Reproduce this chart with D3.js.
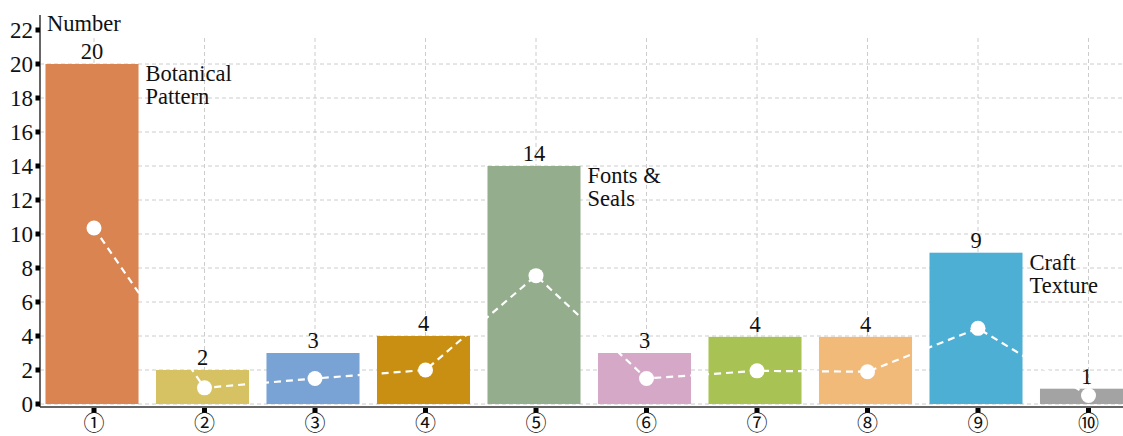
<!DOCTYPE html>
<html><head><meta charset="utf-8">
<script src="https://cdn.jsdelivr.net/npm/d3@7"></script>
<style>
html,body{margin:0;padding:0;background:#fff;}
svg{display:block;}
text{font-family:"Liberation Serif","Times New Roman",serif;fill:#111;}
.circ{font-family:"Noto Sans CJK SC","DejaVu Sans",sans-serif;}
</style></head>
<body>
<svg id="chart" width="1123" height="436"></svg>
<script>
const categories = ["①","②","③","④","⑤","⑥","⑦","⑧","⑨","⑩"];
const barValues = [20, 2, 3, 4, 14, 3, 3.95, 3.95, 8.9, 0.9];
const valueLabels = ["20","2","3","4","14","3","4","4","9","1"];
const dotValues = [10.35, 0.95, 1.5, 2.0, 7.55, 1.5, 1.95, 1.9, 4.45, 0.5];
const colors = ["#D98451","#D6C263","#79A3D4","#C98F13","#94AE8D","#D6A8C8","#A9C254","#F1BA78","#4EAFD4","#A3A3A3"];
const annotations = [{idx:0, lines:["Botanical","Pattern"]},{idx:4, lines:["Fonts &","Seals"]},{idx:8, lines:["Craft","Texture"]}];
const yTicks = [0,2,4,6,8,10,12,14,16,18,20,22];
const gridTicks = [0,2,4,6,8,10,12,14,16,18,20];
const yTitle = "Number";

const svg = d3.select("#chart");
const x = d3.scaleBand().domain(categories).range([36.75, 1141.75]).paddingInner(0.158).paddingOuter(0.079);
const y = d3.scaleLinear().domain([0,22]).range([404, 30]);
const cx = c => x(c) + x.bandwidth()/2 + 2;
const axisX = 40, axisY = 407;

// grid
const grid = svg.append("g").attr("stroke","#cccccc").attr("stroke-width",1).attr("stroke-dasharray","4,3");
grid.selectAll("line.h").data(gridTicks).join("line").attr("class","h")
  .attr("x1",axisX).attr("x2",1123).attr("y1",d=>y(d)).attr("y2",d=>y(d));
grid.selectAll("line.v").data(categories).join("line").attr("class","v")
  .attr("x1",d=>cx(d)).attr("x2",d=>cx(d)).attr("y1",38).attr("y2",404);

// bars
svg.append("g").selectAll("rect").data(categories).join("rect")
  .attr("x",d=>x(d)).attr("width",x.bandwidth())
  .attr("y",(d,i)=>y(barValues[i])).attr("height",(d,i)=>y(0)-y(barValues[i]))
  .attr("fill",(d,i)=>colors[i]);

// dashed line + dots
const line = d3.line().x((d,i)=>cx(categories[i])).y(d=>y(d));
svg.append("path").datum(dotValues).attr("d",line).attr("fill","none")
  .attr("stroke","#fff").attr("stroke-width",2.2).attr("stroke-dasharray","7,5");
svg.append("g").selectAll("circle").data(dotValues).join("circle")
  .attr("cx",(d,i)=>cx(categories[i])).attr("cy",d=>y(d)).attr("r",7.5).attr("fill","#fff");

// value labels
svg.append("g").selectAll("text").data(categories).join("text")
  .attr("x",d=>x(d)+x.bandwidth()/2).attr("y",(d,i)=>y(barValues[i])-5)
  .attr("text-anchor","middle").attr("font-size",22.5).text((d,i)=>valueLabels[i]);

// annotations
annotations.forEach(a=>{
  const c = categories[a.idx];
  const t = svg.append("text").attr("font-size",22.5);
  a.lines.forEach((l,k)=>{
    t.append("tspan").attr("x", x(c)+x.bandwidth()+7).attr("y", y(barValues[a.idx])+17+k*23).text(l);
  });
});

// axes
svg.append("line").attr("x1",axisX).attr("x2",axisX).attr("y1",15).attr("y2",axisY).attr("stroke","#333").attr("stroke-width",1.5);
svg.append("line").attr("x1",axisX).attr("x2",1123).attr("y1",axisY).attr("y2",axisY).attr("stroke","#333").attr("stroke-width",1.5);
const ya = svg.append("g");
ya.selectAll("rect").data(yTicks).join("rect").attr("x",35.5).attr("y",d=>y(d)-2.5).attr("width",4.5).attr("height",5).attr("fill","#000");
ya.selectAll("text").data(yTicks).join("text").attr("x",33).attr("y",d=>y(d)).attr("dy","0.35em")
  .attr("text-anchor","end").attr("font-size",23).text(d=>d);
const xa = svg.append("g");
xa.selectAll("rect").data(categories).join("rect").attr("x",d=>cx(d)-2.5).attr("y",axisY+1).attr("width",5).attr("height",5).attr("fill","#000");
xa.selectAll("text").data(categories).join("text").attr("class","circ").attr("x",d=>cx(d)).attr("y",430)
  .attr("text-anchor","middle").attr("font-size",21).text(d=>d);

svg.append("text").attr("x",47).attr("y",31).attr("font-size",22.5).text(yTitle);
</script>
</body></html>
